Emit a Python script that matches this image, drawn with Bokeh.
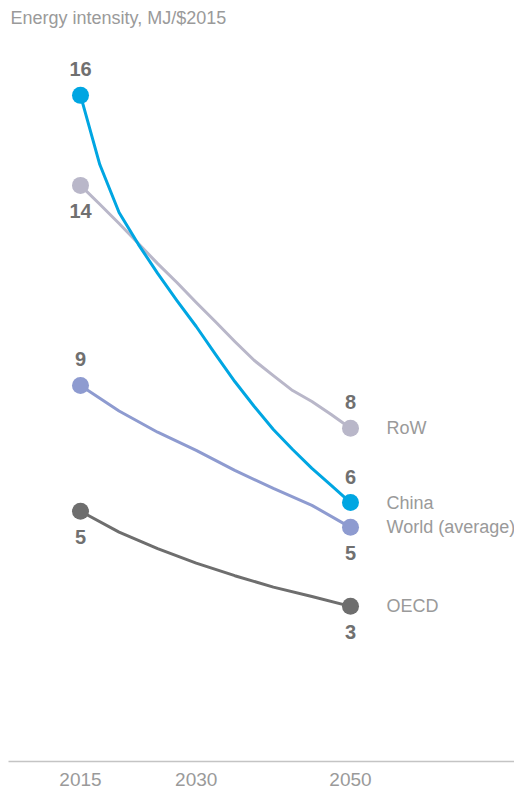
from bokeh.plotting import figure
from bokeh.models import Range1d, FixedTicker, Label, ColumnDataSource
from bokeh.embed import file_html
from bokeh.resources import INLINE
from bokeh.core.properties import value

# ---- data ----
years_fine = [2015, 2017.5, 2020, 2022.5, 2025, 2027.5, 2030, 2032.5,
              2035, 2037.5, 2040, 2042.5, 2045, 2047.5, 2050]
years_coarse = [2015, 2020, 2025, 2030, 2035, 2040, 2045, 2050]
china = [15.98, 14.22, 13.00, 12.19, 11.45, 10.76, 10.10, 9.39,
         8.70, 8.07, 7.48, 6.97, 6.49, 6.06, 5.62]
row = [13.69, 13.21, 12.72, 12.21, 11.70, 11.22, 10.71, 10.22,
       9.72, 9.24, 8.85, 8.47, 8.19, 7.86, 7.51]
world = [8.60, 7.95, 7.41, 6.95, 6.44, 5.98, 5.55, 4.99]
oecd = [5.40, 4.87, 4.45, 4.08, 3.76, 3.47, 3.23, 2.98]

series_names = ["OECD", "World (average)", "RoW", "China"]
series_years = [years_coarse, years_coarse, years_fine, years_fine]
series_values = [oecd, world, row, china]
series_colors = ["#6e6e6e", "#8e9bd0", "#b9b7c9", "#00a6e2"]
start_label_side = ["below", "above", "below", "above"]
end_label_side = ["below", "below", "above", "above"]
tick_years = [2015, 2030, 2050]
title_text = "Energy intensity, MJ/$2015"

FONT = "Liberation Sans"
PX_PER_UNIT = 39.3

p = figure(frame_width=506, frame_height=753, min_border=0,
           min_border_left=8, min_border_top=8,
           x_range=Range1d(2005.666, 2071.26), y_range=Range1d(-0.967, 18.19),
           output_backend="svg", toolbar_location=None)
p.outline_line_color = None
p.background_fill_color = "white"
p.border_fill_color = "white"
p.grid.visible = False
p.yaxis.visible = False

xa = p.xaxis[0]
xa.ticker = FixedTicker(ticks=tick_years)
xa.major_tick_line_color = None
xa.minor_tick_line_color = None
xa.axis_line_color = "#c4c4c4"
xa.axis_line_width = 1.5
xa.major_label_text_font = FONT
xa.major_label_text_font_size = "19px"
xa.major_label_text_color = "#9a9a9a"
xa.major_label_standoff = 5

for name, yrs, vals, col, s_side, e_side in zip(series_names, series_years, series_values,
                                                series_colors, start_label_side, end_label_side):
    src = ColumnDataSource(dict(x=yrs, y=vals))
    p.line("x", "y", source=src, line_color=col, line_width=3, line_join="round")
    p.scatter([yrs[0], yrs[-1]], [vals[0], vals[-1]], size=17,
              fill_color=col, line_color=None)
    lab_x = [yrs[0], yrs[-1]]
    lab_y = [vals[0] + (26 if s_side == "above" else -26) / PX_PER_UNIT,
             vals[-1] + (26 if e_side == "above" else -26) / PX_PER_UNIT]
    lab_t = [str(round(vals[0])), str(round(vals[-1]))]
    p.text(lab_x, lab_y, text=lab_t, text_font=value(FONT), text_font_size="20px",
           text_font_style="bold", text_color="#707070",
           text_align="center", text_baseline="middle")
    p.text([yrs[-1]], [vals[-1]], text=[name], x_offset=36,
           text_font=value(FONT), text_font_size="18px", text_color="#9a9a9a",
           text_align="left", text_baseline="middle")

p.add_layout(Label(x=2005.93, y=17.94, text=title_text, text_font=FONT,
                   text_font_size="18px", text_color="#9a9a9a",
                   text_baseline="middle", text_align="left"))

open("out.html", "w").write(file_html(p, INLINE))
